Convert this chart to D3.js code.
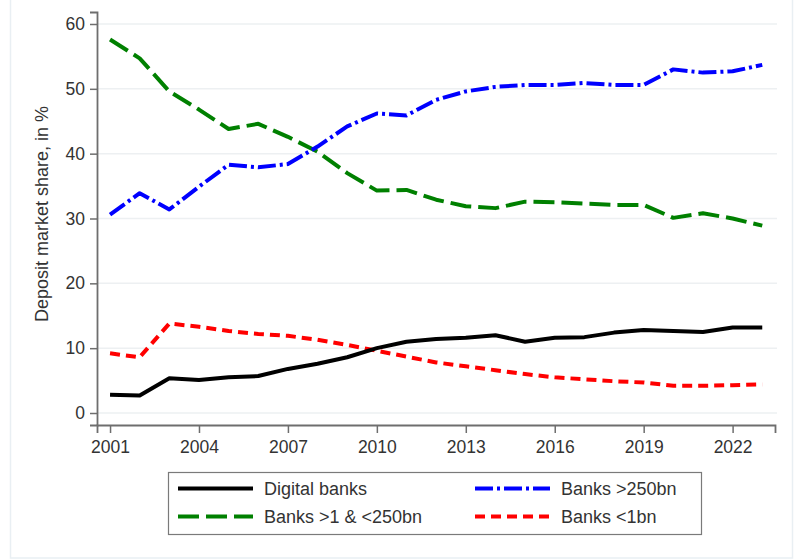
<!DOCTYPE html>
<html><head><meta charset="utf-8">
<script src="https://cdn.jsdelivr.net/npm/d3@7"></script>
<style>
html,body{margin:0;padding:0;background:#fff;}
svg{display:block;font-family:"Liberation Sans",Arial,sans-serif;}
</style></head>
<body>
<svg id="chart" width="794" height="560"></svg>
<script>
const years = d3.range(2001, 2024);
const digitalBanks = [2.8,2.7,5.35,5.1,5.5,5.7,6.8,7.6,8.6,10.0,11.0,11.4,11.6,12.0,11.0,11.6,11.7,12.4,12.8,12.65,12.5,13.2,13.2];
const banksMid = [57.6,54.7,49.6,46.8,43.8,44.6,42.6,40.3,37.0,34.3,34.4,32.9,31.9,31.6,32.6,32.5,32.3,32.1,32.1,30.1,30.8,30.0,28.9];
const banksLarge = [30.6,33.9,31.4,34.9,38.3,37.9,38.4,41.1,44.2,46.2,45.9,48.3,49.6,50.3,50.6,50.6,50.9,50.6,50.6,53.0,52.5,52.7,53.7];
const banksSmall = [9.2,8.6,13.8,13.3,12.65,12.2,11.9,11.3,10.5,9.6,8.7,7.8,7.2,6.6,6.0,5.5,5.2,4.9,4.7,4.2,4.2,4.3,4.4];
const yTicks = [0,10,20,30,40,50,60];
const xTicks = [2001,2004,2007,2010,2013,2016,2019,2022];
const yTitle = "Deposit market share, in %";

const series = [
  {name:"Digital banks", values:digitalBanks, color:"#000000", dash:null},
  {name:"Banks >250bn", values:banksLarge, color:"#0000ff", dash:"18,4,3,4"},
  {name:"Banks >1 & <250bn", values:banksMid, color:"#008000", dash:"21,7"},
  {name:"Banks <1bn", values:banksSmall, color:"#ff0000", dash:"10,6"}
];

const svg = d3.select("#chart");
// faint outer frame
svg.append("rect").attr("x",10.5).attr("y",-2).attr("width",782).attr("height",560)
  .attr("fill","none").attr("stroke","#e9eff3").attr("stroke-width",1.5);

const x = d3.scaleLinear().domain([2000.56, 2023.43]).range([97, 775]);
const y = d3.scaleLinear().domain([-1.85, 61.85]).range([425, 12]);

// gridlines
svg.append("g").selectAll("line").data(yTicks).join("line")
  .attr("x1",97).attr("x2",777)
  .attr("y1",d=>y(d)).attr("y2",d=>y(d))
  .attr("stroke","#edf0f2").attr("stroke-width",1.5);

// y axis
const gy = svg.append("g").attr("transform","translate(97,0)")
  .call(d3.axisLeft(y).tickValues(yTicks).tickSize(7).tickPadding(5).tickFormat(d3.format("d")));
gy.select(".domain").attr("stroke","#6e6e6e").attr("stroke-width",1.8);
gy.selectAll(".tick line").attr("stroke","#6e6e6e").attr("stroke-width",1.5);
gy.selectAll("text").attr("font-size","17.5px").attr("fill","#333").attr("font-family","Liberation Sans, Arial, sans-serif");

// x axis
const gx = svg.append("g").attr("transform","translate(0,425)")
  .call(d3.axisBottom(x).tickValues(xTicks).tickSize(8).tickPadding(8).tickFormat(d3.format("d")));
gx.select(".domain").attr("stroke","#6e6e6e").attr("stroke-width",1.8);
gx.selectAll(".tick line").attr("stroke","#6e6e6e").attr("stroke-width",1.5);
gx.selectAll("text").attr("font-size","17.5px").attr("fill","#333").attr("font-family","Liberation Sans, Arial, sans-serif");

// y title
svg.append("text").attr("transform","translate(48,214) rotate(-90)")
  .attr("text-anchor","middle").attr("font-size","18px").attr("fill","#333")
  .text(yTitle);

// lines
const line = d3.line().x((d,i)=>x(years[i])).y(d=>y(d));
const drawOrder = [series[2], series[1], series[3], series[0]];
svg.append("g").selectAll("path").data(drawOrder).join("path")
  .attr("d", d=>line(d.values))
  .attr("fill","none").attr("stroke",d=>d.color).attr("stroke-width",4)
  .attr("stroke-linejoin","round")
  .attr("stroke-dasharray",d=>d.dash);

// legend
const lg = svg.append("g");
lg.append("rect").attr("x",168.5).attr("y",472.5).attr("width",533).attr("height",62)
  .attr("fill","#fff").attr("stroke","#7a7a7a").attr("stroke-width",1.2);
const legendItems = [
  {s:series[0], x0:178, row:0},
  {s:series[1], x0:475, row:0},
  {s:series[2], x0:178, row:1},
  {s:series[3], x0:475, row:1}
];
const rowY = [488.5, 516.5];
legendItems.forEach(it=>{
  const yy = rowY[it.row];
  lg.append("line").attr("x1",it.x0).attr("x2",it.x0+75).attr("y1",yy).attr("y2",yy)
    .attr("stroke",it.s.color).attr("stroke-width",4).attr("stroke-dasharray",it.s.dash);
  lg.append("text").attr("x",it.x0+86).attr("y",yy).attr("dy","0.35em")
    .attr("font-size","18px").attr("fill","#333").text(it.s.name);
});
</script>
</body></html>
